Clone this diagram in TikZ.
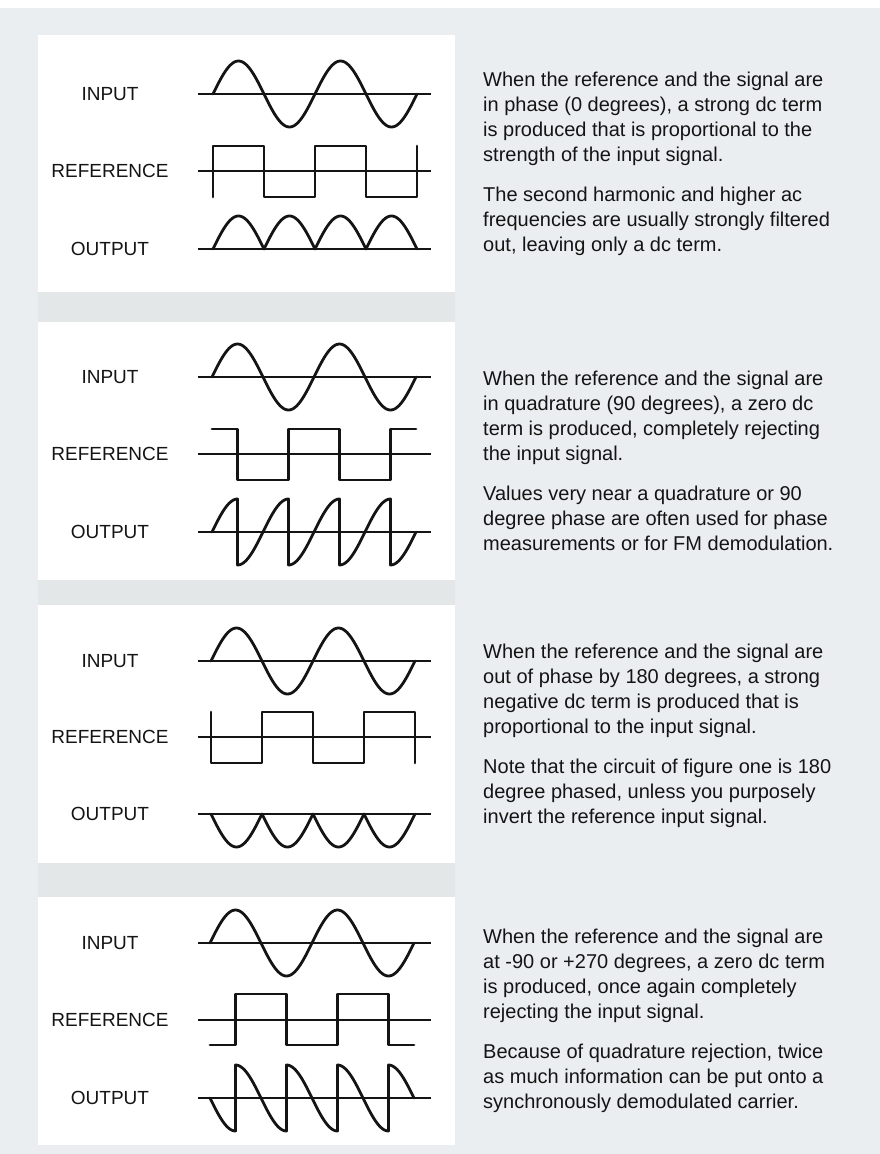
\documentclass[tikz,border=0pt]{standalone}
\usepackage{fontspec}
\setmainfont{Liberation Sans}
\definecolor{bg}{HTML}{EBEEF0}
\definecolor{band}{HTML}{E4E7E8}
\definecolor{ink}{HTML}{141414}
\tikzset{
  panelbox/.style={fill=white, draw=none},
  axisline/.style={draw=ink, line width=1.6pt},
  wave/.style={draw=ink, line width=2.8pt, line join=round, line cap=round},
  lbl/.style={font=\fontsize{19}{22}\selectfont, text=ink, inner sep=0pt},
  desc/.style={font=\fontsize{20}{25}\selectfont, text=ink, align=left, anchor=west, inner sep=0pt},
}
% #1 prefix, #2 top, #3 bottom, #4 x0, #5 yin, #6 yref, #7 yout
\newcommand\drawpanel[7]{%
  \fill[panelbox] (38,#2) rectangle (455,#3);
  \node[lbl] (#1in) at (110,#5) {INPUT};
  \node[lbl] (#1ref) at (110,#6) {REFERENCE};
  \node[lbl] (#1out) at (110,#7) {OUTPUT};
  \draw[axisline] (198,#5) -- (431,#5);
  \draw[axisline] (198,#6) -- (431,#6);
  \draw[axisline] (198,#7) -- (431,#7);
  \draw[wave] plot[domain=0:720,samples=121,variable=\t] ({#4+\t/360*102},{#5-33*sin(\t)});
}
\begin{document}
\begin{tikzpicture}[x=1pt,y=-1pt]
\useasboundingbox (0,0) rectangle (880,1154);
\fill[bg] (0,0) rectangle (880,1154);
\fill[white] (0,0) rectangle (880,8);
\fill[band] (38,292) rectangle (455,322);
\fill[band] (38,580) rectangle (455,605);
\fill[band] (38,863) rectangle (455,897);

% ---------- Panel 1: in phase ----------
\drawpanel{a}{35}{292}{213}{94}{171}{249}
\draw[wave] (213,197) -- (213,146) -- (264,146) -- (264,197) -- (315,197) -- (315,146)
  -- (366,146) -- (366,197) -- (417,197) -- (417,146);
\draw[wave] plot[domain=0:720,samples=161,variable=\t] ({213+\t/360*102},{249-33*abs(sin(\t))});
\node[desc] (atext) at (483,164) {When the reference and the signal are\\
in phase (0 degrees), a strong dc term\\
is produced that is proportional to the\\
strength of the input signal.\\[15pt]
The second harmonic and higher ac\\
frequencies are usually strongly filtered\\
out, leaving only a dc term.};

% ---------- Panel 2: quadrature ----------
\drawpanel{b}{322}{580}{212}{377}{454}{532}
\draw[wave] (212,429) -- (237.5,429) -- (237.5,480) -- (288.5,480) -- (288.5,429)
  -- (339.5,429) -- (339.5,480) -- (390.5,480) -- (390.5,429) -- (416,429);
\draw[wave] plot[domain=0:90,samples=20,variable=\t] ({212+\t/360*102},{532-33*sin(\t)})
  --plot[domain=90:270,samples=40,variable=\t] ({212+\t/360*102},{532+33*sin(\t)})
  --plot[domain=270:450,samples=40,variable=\t] ({212+\t/360*102},{532-33*sin(\t)})
  --plot[domain=450:630,samples=40,variable=\t] ({212+\t/360*102},{532+33*sin(\t)})
  --plot[domain=630:720,samples=20,variable=\t] ({212+\t/360*102},{532-33*sin(\t)});
\node[desc] (btext) at (483,461) {When the reference and the signal are\\
in quadrature (90 degrees), a zero dc\\
term is produced, completely rejecting\\
the input signal.\\[15pt]
Values very near a quadrature or 90\\
degree phase are often used for phase\\
measurements or for FM demodulation.};

% ---------- Panel 3: 180 degrees ----------
\drawpanel{c}{605}{863}{211}{661}{737}{814}
\draw[wave] (211,712) -- (211,763) -- (262,763) -- (262,712) -- (313,712) -- (313,763)
  -- (364,763) -- (364,712) -- (415,712) -- (415,763);
\draw[wave] plot[domain=0:720,samples=161,variable=\t] ({211+\t/360*102},{814+33*abs(sin(\t))});
\node[desc] (ctext) at (483,736) {When the reference and the signal are\\
out of phase by 180 degrees, a strong\\
negative dc term is produced that is\\
proportional to the input signal.\\[15pt]
Note that the circuit of figure one is 180\\
degree phased, unless you purposely\\
invert the reference input signal.};

% ---------- Panel 4: -90 / +270 degrees ----------
\drawpanel{d}{897}{1145}{210}{943}{1020}{1098}
\draw[wave] (210,1045) -- (235.5,1045) -- (235.5,994) -- (286.5,994) -- (286.5,1045)
  -- (337.5,1045) -- (337.5,994) -- (388.5,994) -- (388.5,1045) -- (414,1045);
\draw[wave] plot[domain=0:90,samples=20,variable=\t] ({210+\t/360*102},{1098+33*sin(\t)})
  --plot[domain=90:270,samples=40,variable=\t] ({210+\t/360*102},{1098-33*sin(\t)})
  --plot[domain=270:450,samples=40,variable=\t] ({210+\t/360*102},{1098+33*sin(\t)})
  --plot[domain=450:630,samples=40,variable=\t] ({210+\t/360*102},{1098-33*sin(\t)})
  --plot[domain=630:720,samples=20,variable=\t] ({210+\t/360*102},{1098+33*sin(\t)});
\node[desc] (dtext) at (483,1021) {When the reference and the signal are\\
at -90 or +270 degrees, a zero dc term\\
is produced, once again completely\\
rejecting the input signal.\\[15pt]
Because of quadrature rejection, twice\\
as much information can be put onto a\\
synchronously demodulated carrier.};
\end{tikzpicture}
\end{document}
